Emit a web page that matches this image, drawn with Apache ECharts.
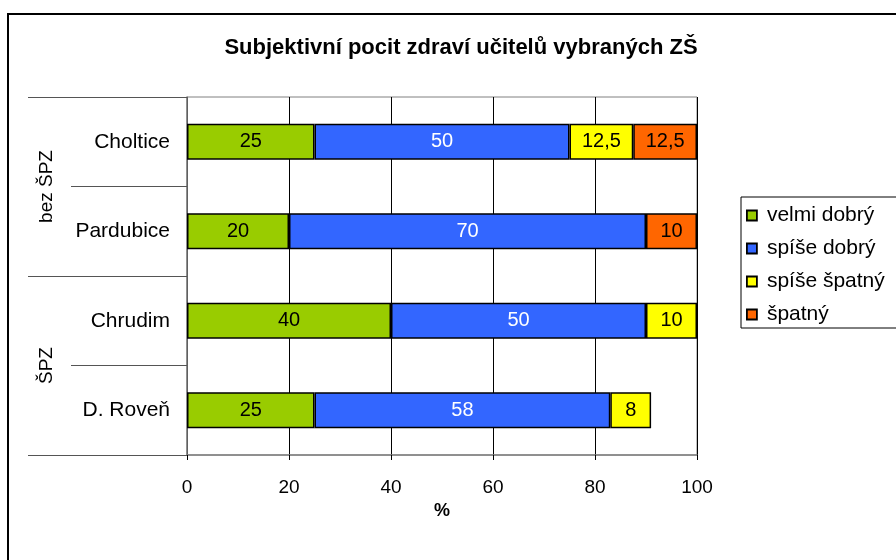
<!DOCTYPE html>
<html>
<head>
<meta charset="utf-8">
<script src="https://cdn.jsdelivr.net/npm/echarts@6/dist/echarts.min.js"></script>
<style>
  html, body { margin: 0; padding: 0; background: #fff; }
  #chart { width: 896px; height: 560px; }
</style>
</head>
<body>
<div id="chart"></div>
<script>
// Schools (top to bottom) and their groups
const schools = ['Choltice', 'Pardubice', 'Chrudim', 'D. Roveň'];
const groups = ['bez ŠPZ', 'ŠPZ'];

// Share of answers per school, in %
const velmiDobry  = [25, 20, 40, 25];
const spiseDobry  = [50, 70, 50, 58];
const spiseSpatny = [12.5, 0, 10, 8];
const spatny      = [12.5, 10, 0, 0];

const seriesNames = ['velmi dobrý', 'spíše dobrý', 'spíše špatný', 'špatný'];
const seriesColors = ['#99CC00', '#3366FF', '#FFFF00', '#FF6600'];
const labelColors = ['#000', '#fff', '#000', '#000'];
const xTicks = [0, 20, 40, 60, 80, 100];

const FONT = 'Liberation Sans, Arial, sans-serif';
const chart = echarts.init(document.getElementById('chart'));

function mkSeries(idx, values) {
  return {
    name: seriesNames[idx],
    type: 'bar',
    stack: 'total',
    barWidth: 36,
    data: values.map(v => (v === 0 ? null : v)),
    itemStyle: { color: seriesColors[idx], borderColor: '#000', borderWidth: 1.5 },
    label: {
      show: true,
      position: 'inside',
      color: labelColors[idx],
      fontFamily: FONT,
      fontSize: 20,
      formatter: p => String(p.value).replace('.', ',')
    }
  };
}

chart.setOption({
  animation: false,
  textStyle: { fontFamily: FONT },
  title: {
    text: 'Subjektivní pocit zdraví učitelů vybraných ZŠ',
    left: 456,
    textAlign: 'center',
    top: 32,
    textStyle: { fontFamily: FONT, fontSize: 22, fontWeight: 'bold', color: '#000' }
  },
  legend: {
    orient: 'vertical',
    left: 741,
    top: 197,
    width: 170,
    padding: [8, 40, 3, 5],
    itemWidth: 10,
    itemHeight: 10,
    itemGap: 12,
    borderColor: '#000',
    borderWidth: 1,
    icon: 'rect',
    textStyle: { fontFamily: FONT, fontSize: 21, color: '#000', padding: [0, 0, 0, 5] },
    itemStyle: { borderColor: '#000', borderWidth: 1.8 },
    data: seriesNames
  },
  grid: {
    left: 187, right: 199, top: 97, bottom: 105,
    show: true, borderColor: '#808080', borderWidth: 1
  },
  xAxis: {
    type: 'value',
    min: xTicks[0], max: xTicks[xTicks.length - 1], interval: 20,
    name: '%',
    nameLocation: 'middle',
    nameGap: 43,
    nameTextStyle: { fontFamily: FONT, fontSize: 18, fontWeight: 'bold', color: '#000' },
    axisLine: { show: true, lineStyle: { color: '#808080', width: 1.5 } },
    axisTick: { show: true, length: 5, lineStyle: { color: '#000' } },
    axisLabel: { margin: 23, fontFamily: FONT, fontSize: 19, color: '#000' },
    splitLine: { show: true, lineStyle: { color: '#000', width: 1 } }
  },
  yAxis: [
    {
      type: 'category',
      data: schools,
      inverse: true,
      position: 'left',
      axisLine: { show: true, lineStyle: { color: '#808080', width: 1.5 } },
      axisTick: { show: true, length: 116, lineStyle: { color: '#555', width: 1 } },
      axisLabel: { margin: 17, fontFamily: FONT, fontSize: 21, color: '#000' }
    },
    {
      type: 'category',
      data: groups,
      inverse: true,
      position: 'left',
      axisLine: { show: false },
      axisTick: { show: true, length: 159, lineStyle: { color: '#555', width: 1 } },
      axisLabel: { rotate: 90, margin: 131, fontFamily: FONT, fontSize: 19, color: '#000' }
    }
  ],
  series: [
    mkSeries(0, velmiDobry),
    mkSeries(1, spiseDobry),
    mkSeries(2, spiseSpatny),
    mkSeries(3, spatny)
  ],
  graphic: [
    {
      type: 'rect',
      shape: { x: 8, y: 14, width: 900, height: 560 },
      style: { fill: 'none', stroke: '#000', lineWidth: 2 },
      silent: true
    }
  ]
});
</script>
</body>
</html>
